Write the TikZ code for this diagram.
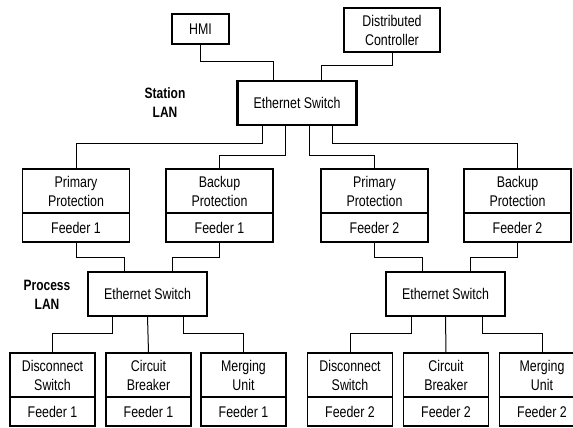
\documentclass[tikz,border=0pt]{standalone}
\usepackage{fontspec}
\setmainfont{Liberation Sans}[FakeStretch=0.8]
\begin{document}
\begin{tikzpicture}[x=1pt, y=-1pt,
  every node/.style={font=\fontsize{15.5}{19}\selectfont, inner sep=0pt, outer sep=0pt, align=center},
  unit/.style={draw, line width=1.1pt, minimum height=44pt},
  tag/.style={draw, line width=1.1pt, minimum height=29pt},
  wide/.style={minimum width=107pt},
  narrow/.style={minimum width=85pt},
  switchbox/.style={draw, line width=2.8pt, minimum width=119pt, minimum height=44pt},
  lanlabel/.style={font=\fontsize{15}{19}\selectfont\bfseries},
  wire/.style={line width=1pt}]
\useasboundingbox (0,0) rectangle (573,428);
\clip (0,0) rectangle (573,428);
\fill[white] (0,0) rectangle (573,428);

% station level
\node[draw, line width=1.1pt, minimum width=57pt, minimum height=30pt] (hmi) at (200.5,29) {HMI};
\node[draw, line width=1.1pt, minimum width=96pt, minimum height=44pt] (dc) at (392,30) {Distributed\\Controller};
\node[switchbox] (sta) at (297,103) {Ethernet Switch};
\node[lanlabel] (stalan) at (165,102.5) {Station\\LAN};

% protection relays
\node[unit, wide] (pp1) at (76,191) {Primary\\Protection};
\node[tag, wide] (pp1f) at (76,227.5) {Feeder 1};
\node[unit, wide] (bp1) at (219.5,191) {Backup\\Protection};
\node[tag, wide] (bp1f) at (219.5,227.5) {Feeder 1};
\node[unit, wide] (pp2) at (374.5,191) {Primary\\Protection};
\node[tag, wide] (pp2f) at (374.5,227.5) {Feeder 2};
\node[unit, wide] (bp2) at (517.5,191) {Backup\\Protection};
\node[tag, wide] (bp2f) at (517.5,227.5) {Feeder 2};

% process level
\node[switchbox] (ps1) at (147.5,294) {Ethernet Switch};
\node[switchbox] (ps2) at (445.5,294) {Ethernet Switch};
\node[lanlabel] (proclan) at (47,294.5) {Process\\LAN};

% field devices
\node[unit, narrow] (ds1) at (52.5,375) {Disconnect\\Switch};
\node[tag, narrow] (ds1f) at (52.5,411.5) {Feeder 1};
\node[unit, narrow] (cb1) at (148.5,375) {Circuit\\Breaker};
\node[tag, narrow] (cb1f) at (148.5,411.5) {Feeder 1};
\node[unit, narrow] (mu1) at (243.5,375) {Merging\\Unit};
\node[tag, narrow] (mu1f) at (243.5,411.5) {Feeder 1};
\node[unit, narrow] (ds2) at (350,375) {Disconnect\\Switch};
\node[tag, narrow] (ds2f) at (350,411.5) {Feeder 2};
\node[unit, narrow] (cb2) at (446,375) {Circuit\\Breaker};
\node[tag, narrow] (cb2f) at (446,411.5) {Feeder 2};
\node[unit, narrow] (mu2) at (542,375) {Merging\\Unit};
\node[tag, narrow] (mu2f) at (542,411.5) {Feeder 2};

% station LAN links
\draw[wire] (hmi.south) -- ++(0,18) -| ([xshift=-24pt]sta.north);
\draw[wire] (dc.south) -- ++(0,14) -| ([xshift=24pt]sta.north);
\draw[wire] ([xshift=-35pt]sta.south) -- ++(0,18) -| (pp1.north);
\draw[wire] ([xshift=-12pt]sta.south) -- ++(0,30) -| (bp1.north);
\draw[wire] ([xshift=12pt]sta.south) -- ++(0,30) -| (pp2.north);
\draw[wire] ([xshift=35pt]sta.south) -- ++(0,18) -| (bp2.north);

% process LAN links
\draw[wire] (pp1f.south) -- ++(0,15) -| ([xshift=-23.5pt]ps1.north);
\draw[wire] (bp1f.south) -- ++(0,15) -| ([xshift=24.5pt]ps1.north);
\draw[wire] (pp2f.south) -- ++(0,15) -| ([xshift=-23.5pt]ps2.north);
\draw[wire] (bp2f.south) -- ++(0,15) -| ([xshift=24.5pt]ps2.north);

\draw[wire] ([xshift=-35.5pt]ps1.south) -- ++(0,17) -| (ds1.north);
\draw[wire] (ps1.south) -- (cb1.north);
\draw[wire] ([xshift=35.5pt]ps1.south) -- ++(0,17) -| (mu1.north);
\draw[wire] ([xshift=-34.5pt]ps2.south) -- ++(0,17) -| (ds2.north);
\draw[wire] (ps2.south) -- (cb2.north);
\draw[wire] ([xshift=36.5pt]ps2.south) -- ++(0,17) -| (mu2.north);
\end{tikzpicture}
\end{document}
